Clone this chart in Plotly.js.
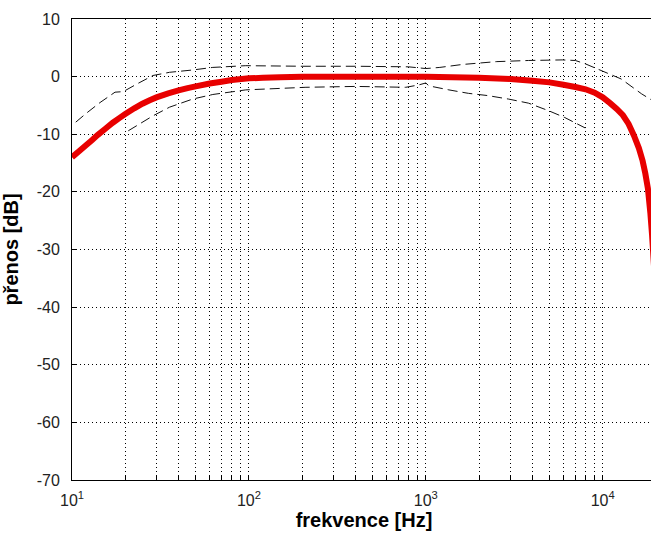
<!DOCTYPE html>
<html>
<head>
<meta charset="utf-8">
<script src="https://cdn.plot.ly/plotly-3.0.1.min.js"></script>
<style>
html,body{margin:0;padding:0;overflow:hidden;background:#fff;}
#chart{width:660px;height:537px;}
</style>
</head>
<body>
<div id="chart"></div>
<script>
// Frequency response (red, thick)
const freqMain = [10, 11, 12, 13, 14, 15.5, 17, 18.5, 20, 22.5, 25, 27.5, 30, 35, 40, 45, 50, 60, 70, 80, 100, 120, 150, 200, 500, 1000, 2000, 3000, 4000, 5000, 6000, 7000, 8000, 9000, 10000, 11000, 12000, 13000, 14000, 15000, 16000, 16800, 17400, 18000, 18600, 19000, 19500, 20000];
const dbMain   = [-14.0, -12.9, -11.9, -11.0, -10.1, -9.0, -8.0, -7.2, -6.5, -5.5, -4.7, -4.1, -3.6, -2.9, -2.4, -2.0, -1.7, -1.2, -0.9, -0.6, -0.3, -0.2, -0.1, 0, 0, 0, -0.2, -0.4, -0.7, -1.0, -1.4, -1.8, -2.2, -2.8, -3.6, -4.6, -5.6, -6.7, -8.2, -10.2, -12.4, -14.6, -16.8, -19.4, -23.8, -27.5, -33.0, -39.0];

// Upper tolerance (dashed)
const freqUpper = [10.5, 12, 14.4, 17.5, 19.5, 23.2, 28.7, 35.6, 48, 62.5, 96, 200, 400, 800, 1000, 1200, 1600, 2500, 3800, 5900, 7000, 8000, 9900, 12700, 16600, 18750, 20000];
const dbUpper   = [-7.9, -6.4, -4.5, -2.7, -2.6, -1.3, 0.2, 0.75, 1.15, 1.6, 1.9, 1.8, 1.8, 1.7, 1.4, 1.6, 2.1, 2.6, 2.8, 2.9, 2.8, 2.2, 1.0, -0.4, -3.0, -4.0, -4.5];

// Lower tolerance (dashed)
const freqLower = [20.8, 28.7, 35.6, 48, 62.5, 96, 210, 400, 770, 910, 1000, 1040, 1350, 1740, 2250, 2940, 3800, 4930, 6100, 7950];
const dbLower   = [-9.4, -6.8, -5.3, -3.9, -3.1, -2.3, -1.85, -1.7, -1.85, -1.45, -1.1, -1.6, -2.3, -2.9, -3.3, -3.9, -4.6, -5.9, -7.1, -8.9];

// Axis ticks
const xTickVals = [];
const xTickText = [];
[10, 100, 1000, 10000].forEach(function(d){
  for (let m = 1; m <= 9; m++) {
    const v = d * m;
    if (v > 20000) break;
    xTickVals.push(v);
    xTickText.push(m === 1 ? '10<sup>' + Math.round(Math.log10(d)) + '</sup>' : '');
  }
});
const yTickVals = [-70, -60, -50, -40, -30, -20, -10, 0, 10];
const yTickText = ['-70', '-60', '-50', '-40', '-30', '-20', '-10', '0', '10'];
const xTitle = 'frekvence [Hz]';
const yTitle = 'přenos [dB]';

const dashed = {color: '#111', width: 1, dash: '10px,5px', simplify: false};
const traces = [
  {x: freqUpper, y: dbUpper, mode: 'lines', line: dashed, hoverinfo: 'skip'},
  {x: freqLower, y: dbLower, mode: 'lines', line: dashed, hoverinfo: 'skip'},
  {x: freqMain, y: dbMain, mode: 'lines', line: {color: '#e80000', width: 6, simplify: false}, hoverinfo: 'skip'}
];

const font = {family: '"Liberation Sans", Arial, Helvetica, sans-serif', color: '#1a1a1a'};
const layout = {
  width: 660, height: 537,
  margin: {l: 72, r: 4, t: 19, b: 57},
  paper_bgcolor: '#fff', plot_bgcolor: '#fff',
  showlegend: false,
  font: font,
  xaxis: {
    type: 'log',
    range: [1, Math.log10(20000)],
    tickvals: xTickVals, ticktext: xTickText,
    ticks: 'inside', ticklen: 5, tickcolor: '#000', tickwidth: 1,
    showgrid: true, gridcolor: '#000', gridwidth: 1, griddash: '1px,3px',
    showline: true, linecolor: '#000', linewidth: 1, mirror: true,
    zeroline: false,
    tickfont: {size: 16, color: '#222', family: font.family},
    ticklabelstandoff: 6,
    title: {text: xTitle, font: {size: 20, color: '#000', family: font.family, weight: 'bold'}, standoff: 4}
  },
  yaxis: {
    range: [-70, 10],
    tickvals: yTickVals, ticktext: yTickText,
    ticks: 'inside', ticklen: 5, tickcolor: '#000', tickwidth: 1,
    showgrid: true, gridcolor: '#000', gridwidth: 1, griddash: '1px,3px',
    showline: true, linecolor: '#000', linewidth: 1, mirror: true,
    zeroline: false,
    tickfont: {size: 16, color: '#222', family: font.family},
    ticklabelstandoff: 8,
    title: {text: yTitle, font: {size: 20, color: '#000', family: font.family, weight: 'bold'}, standoff: 12}
  }
};

Plotly.newPlot('chart', traces, layout, {displayModeBar: false, staticPlot: true});
</script>
</body>
</html>
